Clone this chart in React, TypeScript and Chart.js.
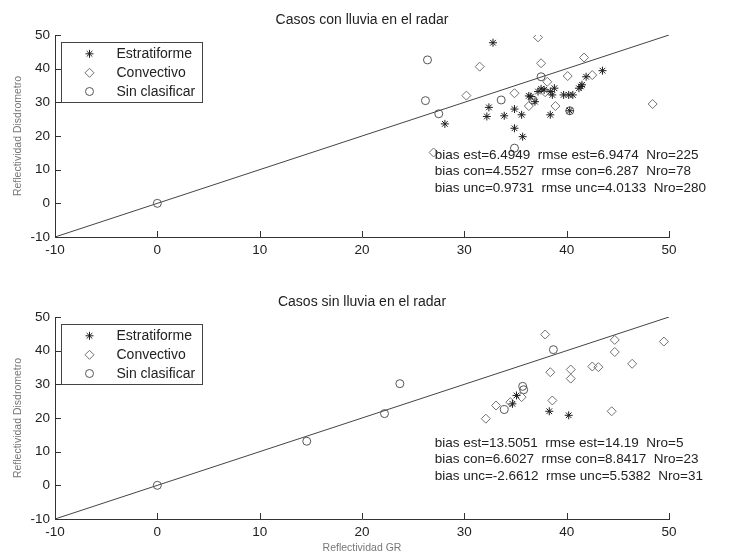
import React, { useEffect, useRef } from 'react';
import { Chart, registerables } from 'chart.js';
import { drawPoint } from 'chart.js/helpers';

Chart.register(...registerables);

const FONT = '"Liberation Sans", Arial, Helvetica, sans-serif';

// ---------- shared ----------
const tickValues = [-10, 0, 10, 20, 30, 40, 50];
const legendLabels = ['Estratiforme', 'Convectivo', 'Sin clasificar'];
const refLineX = [-10, 50];
const refLineY = [-10, 50];
const xAxisTitle = 'Reflectividad GR';
const yAxisTitle = 'Reflectividad Disdrometro';

// ---------- top panel: Casos con lluvia en el radar ----------
const topTitle = 'Casos con lluvia en el radar';
const topEstX = [32.8, 43.5, 41.9, 41.5, 41.4, 41.2, 37.8, 38.4, 38.8, 38.6, 37.2, 37.5, 39.7, 40.2, 40.6, 36.5, 36.9, 32.4, 34.9, 32.2, 33.9, 35.6, 38.4, 40.3, 28.1, 34.9, 35.7, 36.3];
const topEstY = [47.7, 39.4, 37.6, 35.2, 34.7, 34.2, 33.7, 33.2, 34.2, 32.2, 33.2, 34.0, 32.2, 32.2, 32.2, 31.7, 30.2, 28.5, 28.0, 25.8, 26.0, 26.3, 26.3, 27.5, 23.6, 22.3, 19.8, 31.9];
const topConX = [37.2, 41.7, 37.5, 31.5, 40.1, 42.5, 38.1, 34.9, 30.2, 36.3, 38.9, 48.4, 27.0, 37.9];
const topConY = [49.3, 43.3, 41.6, 40.6, 37.8, 38.1, 36.1, 32.7, 32.0, 28.9, 28.9, 29.5, 15.1, 33.0];
const topUncX = [0, 26.4, 26.2, 27.5, 33.6, 37.5, 40.3, 34.9, 36.7];
const topUncY = [0, 42.6, 30.5, 26.6, 30.7, 37.6, 27.5, 16.4, 30.7];
const topStats = [
  'bias est=6.4949  rmse est=6.9474  Nro=225',
  'bias con=4.5527  rmse con=6.287  Nro=78',
  'bias unc=0.9731  rmse unc=4.0133  Nro=280',
];

// ---------- bottom panel: Casos sin lluvia en el radar ----------
const botTitle = 'Casos sin lluvia en el radar';
const botEstX = [35.1, 34.7, 38.3, 40.2];
const botEstY = [26.7, 24.2, 22.0, 20.8];
const botConX = [37.9, 44.7, 49.5, 44.7, 46.4, 42.5, 43.1, 40.4, 38.4, 40.4, 38.6, 44.4, 33.1, 32.1, 34.5, 35.6];
const botConY = [44.8, 43.2, 42.7, 39.6, 36.1, 35.3, 35.1, 34.4, 33.6, 31.7, 25.2, 22.0, 23.7, 19.8, 24.7, 26.2];
const botUncX = [0, 14.6, 22.2, 23.7, 33.9, 35.7, 35.8, 38.7];
const botUncY = [0, 13.1, 21.3, 30.2, 22.5, 29.4, 28.4, 40.3];
const botStats = [
  'bias est=13.5051  rmse est=14.19  Nro=5',
  'bias con=6.6027  rmse con=8.8417  Nro=23',
  'bias unc=-2.6612  rmse unc=5.5382  Nro=31',
];

const EST_COLOR = '#1e1e1e';
const CON_COLOR = '#707070';
const UNC_COLOR = '#555555';
const AXIS_COLOR = '#333333';
const TEXT_COLOR = '#222222';

function pts(xs: number[], ys: number[]) {
  return xs.map((x, i) => ({ x, y: ys[i] }));
}

const overlayPlugin = {
  id: 'overlay',
  afterDraw(chart: any) {
    const ctx = chart.ctx;
    const ca = chart.chartArea;
    const xs = chart.scales.x;
    const ys = chart.scales.y;
    const opts = chart.options.plugins.overlay || {};
    ctx.save();
    // inward tick marks
    ctx.strokeStyle = AXIS_COLOR;
    ctx.lineWidth = 1;
    ctx.beginPath();
    xs.ticks.forEach((t: any) => {
      const px = Math.round(xs.getPixelForValue(t.value)) + 0.5;
      ctx.moveTo(px, ca.bottom);
      ctx.lineTo(px, ca.bottom - 6);
    });
    ys.ticks.forEach((t: any) => {
      const py = Math.round(ys.getPixelForValue(t.value)) + 0.5;
      ctx.moveTo(ca.left, py);
      ctx.lineTo(ca.left + 6, py);
    });
    ctx.stroke();

    // legend box
    const bx = ca.left + 6.5;
    const by = ca.top + 7.5;
    const bw = 141;
    const bh = 60;
    ctx.fillStyle = '#ffffff';
    ctx.fillRect(bx, by, bw, bh);
    ctx.strokeStyle = '#444';
    ctx.strokeRect(bx, by, bw, bh);
    ctx.font = '14px ' + FONT;
    ctx.textBaseline = 'middle';
    ctx.textAlign = 'left';
    const rows = [11.3, 30.3, 49];
    chart.data.datasets.slice(0, 3).forEach((ds: any, i: number) => {
      const cy = by + rows[i];
      ctx.strokeStyle = ds.borderColor;
      ctx.fillStyle = 'rgba(0,0,0,0)';
      ctx.lineWidth = ds.pointBorderWidth || 1;
      drawPoint(ctx, { pointStyle: ds.pointStyle, radius: ds.pointRadius, borderWidth: 1, rotation: 0 } as any, bx + 28, cy);
      ctx.fillStyle = TEXT_COLOR;
      ctx.fillText(ds.label, bx + 55, cy + 0.5);
    });

    // stats text
    if (opts.stats) {
      ctx.font = '13.5px ' + FONT;
      ctx.fillStyle = TEXT_COLOR;
      ctx.textBaseline = 'middle';
      const sx = xs.getPixelForValue(opts.statsX);
      const sy = ys.getPixelForValue(opts.statsY);
      opts.stats.forEach((line: string, i: number) => {
        ctx.fillText(line, sx, sy + i * 16.8);
      });
    }
    ctx.restore();
  },
};

type PanelProps = {
  title: string;
  estX: number[]; estY: number[];
  conX: number[]; conY: number[];
  uncX: number[]; uncY: number[];
  stats: string[];
  statsX: number; statsY: number;
  height: number;
  xAxisHeight: number;
  showXTitle: boolean;
  top: number;
};

function Panel(p: PanelProps) {
  const ref = useRef<HTMLCanvasElement | null>(null);
  useEffect(() => {
    if (!ref.current) return;
    const chart = new Chart(ref.current, {
      type: 'scatter',
      data: {
        datasets: [
          {
            label: legendLabels[0], data: pts(p.estX, p.estY), pointStyle: 'star', pointRadius: 4,
            borderColor: EST_COLOR, backgroundColor: 'rgba(0,0,0,0)', pointBorderWidth: 1, borderWidth: 1,
          } as any,
          {
            label: legendLabels[1], data: pts(p.conX, p.conY), pointStyle: 'rectRot', pointRadius: 4.5,
            borderColor: CON_COLOR, backgroundColor: 'rgba(0,0,0,0)', pointBorderWidth: 1, borderWidth: 1,
          } as any,
          {
            label: legendLabels[2], data: pts(p.uncX, p.uncY), pointStyle: 'circle', pointRadius: 4,
            borderColor: UNC_COLOR, backgroundColor: 'rgba(0,0,0,0)', pointBorderWidth: 1, borderWidth: 1,
          } as any,
          {
            label: 'ref', data: pts(refLineX, refLineY), showLine: true, pointRadius: 0,
            borderColor: '#444444', borderWidth: 1, backgroundColor: 'rgba(0,0,0,0)',
          } as any,
        ],
      },
      options: {
        animation: false,
        responsive: false,
        maintainAspectRatio: false,
        layout: { padding: { left: 0, right: 62, top: 0, bottom: 0 } },
        plugins: {
          legend: { display: false },
          tooltip: { enabled: false },
          title: {
            display: true, text: p.title, fullSize: false, color: TEXT_COLOR,
            font: { family: FONT, size: 14, weight: 'normal' },
            padding: { top: 11.6, bottom: 6.6 },
          },
          overlay: { stats: p.stats, statsX: p.statsX, statsY: p.statsY },
        } as any,
        scales: {
          x: {
            type: 'linear', position: 'bottom', min: -10, max: 50,
            afterBuildTicks: (s: any) => { s.ticks = tickValues.map((v) => ({ value: v })); },
            afterFit: (s: any) => { s.height = p.xAxisHeight; },
            grid: { display: false, drawTicks: false },
            border: { display: true, color: AXIS_COLOR, width: 1 },
            ticks: { padding: 5, color: TEXT_COLOR, font: { family: FONT, size: 13.5 }, maxRotation: 0 },
            title: {
              display: p.showXTitle, text: xAxisTitle, color: '#777',
              font: { family: FONT, size: 10.5 }, padding: { top: 0, bottom: 0 },
            },
          },
          y: {
            type: 'linear', position: 'left', min: -10, max: 50,
            afterBuildTicks: (s: any) => { s.ticks = tickValues.map((v) => ({ value: v })); },
            afterFit: (s: any) => { s.width = 55; },
            grid: { display: false, drawTicks: false },
            border: { display: true, color: AXIS_COLOR, width: 1 },
            ticks: { padding: 5, color: TEXT_COLOR, font: { family: FONT, size: 13.5 } },
            title: {
              display: true, text: yAxisTitle, color: '#777',
              font: { family: FONT, size: 10.5 }, padding: { top: 11.7, bottom: 0 },
            },
          },
        },
      } as any,
      plugins: [overlayPlugin as any],
    });
    return () => chart.destroy();
  }, []);
  return (
    <canvas
      ref={ref}
      width={731}
      height={p.height}
      style={{ position: 'absolute', left: 0, top: p.top, width: 731, height: p.height, display: 'block' }}
    />
  );
}

export default function App() {
  return (
    <div style={{ position: 'absolute', left: 0, top: 0, width: 731, height: 554, background: '#fff' }}>
      <Panel
        title={topTitle}
        estX={topEstX} estY={topEstY}
        conX={topConX} conY={topConY}
        uncX={topUncX} uncY={topUncY}
        stats={topStats} statsX={27.1} statsY={14.4}
        height={282} xAxisHeight={45} showXTitle={false} top={0}
      />
      <Panel
        title={botTitle}
        estX={botEstX} estY={botEstY}
        conX={botConX} conY={botConY}
        uncX={botUncX} uncY={botUncY}
        stats={botStats} statsX={27.1} statsY={12.6}
        height={272} xAxisHeight={35} showXTitle={true} top={282}
      />
    </div>
  );
}
